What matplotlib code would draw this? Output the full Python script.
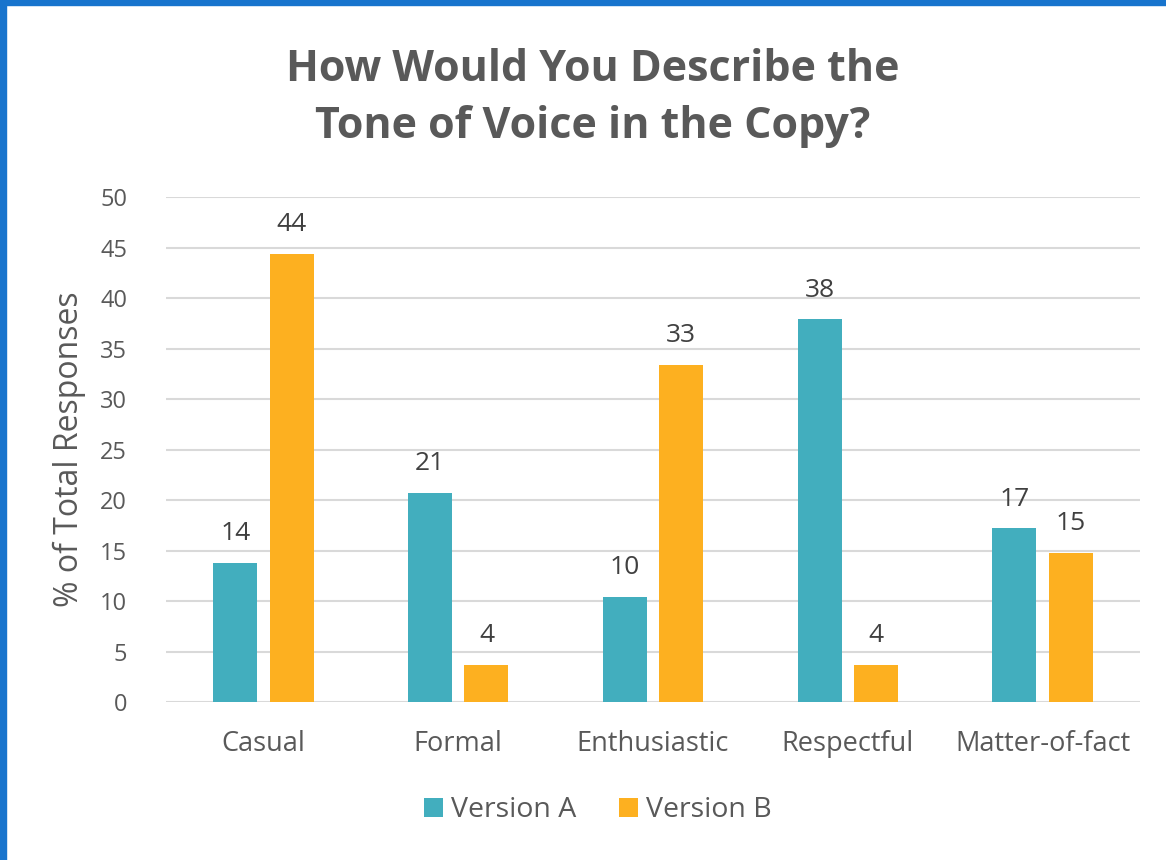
import matplotlib.pyplot as plt
import numpy as np
from matplotlib.patches import Rectangle

categories = ["Casual", "Formal", "Enthusiastic", "Respectful", "Matter-of-fact"]
version_a = [13.8, 20.7, 10.4, 37.9, 17.2]
version_b = [44.4, 3.7, 33.4, 3.7, 14.8]
yticks = [0, 5, 10, 15, 20, 25, 30, 35, 40, 45, 50]

teal = "#42AEBE"
orange = "#FDB020"
grey = "#595959"

plt.rcParams['font.family'] = ['Open Sans', 'DejaVu Sans']

fig = plt.figure(figsize=(11.66, 8.6), dpi=100)
ax = fig.add_axes([0.1424, 0.1837, 0.8353, 0.5872])

x = np.arange(len(categories))
w = 0.226
off = 0.145
bars_a = ax.bar(x - off, version_a, w, color=teal, label="Version A", zorder=3)
bars_b = ax.bar(x + off, version_b, w, color=orange, label="Version B", zorder=3)

for bars in (bars_a, bars_b):
    ax.bar_label(bars, fmt="%.0f", padding=12, fontsize=19, color="#404040")

ax.set_xlim(-0.5, 4.5)
ax.set_ylim(0, 50)
ax.set_yticks(yticks)
ax.set_xticks(x)
ax.set_xticklabels(categories)
ax.tick_params(axis='both', length=0, labelcolor=grey)
ax.tick_params(axis='y', pad=28, labelsize=17)
ax.tick_params(axis='x', pad=20, labelsize=19.5)
ax.grid(axis='y', color="#d9d9d9", linewidth=1.5, zorder=0)
for s in ax.spines.values():
    s.set_visible(False)

ax.set_ylabel("% of Total Responses", fontsize=23, color=grey, labelpad=10)

fig.text(0.508, 0.886, "How Would You Describe the\nTone of Voice in the Copy?",
         ha='center', va='center', fontsize=31, fontweight='bold', color=grey,
         linespacing=1.4)

fig.legend(loc='center', bbox_to_anchor=(0.513, 0.058), ncol=2, frameon=False,
           fontsize=20.5, handlelength=0.65, handleheight=0.65, handletextpad=0.3,
           columnspacing=1.5, labelcolor=grey)

# blue frame at top and left edge
fig.add_artist(Rectangle((0, 1 - 5 / 860), 1, 5 / 860, transform=fig.transFigure,
                         color="#1874CD", zorder=10))
fig.add_artist(Rectangle((0, 0), 6 / 1166, 1, transform=fig.transFigure,
                         color="#1874CD", zorder=10))

fig.savefig("out.png", dpi=100)
